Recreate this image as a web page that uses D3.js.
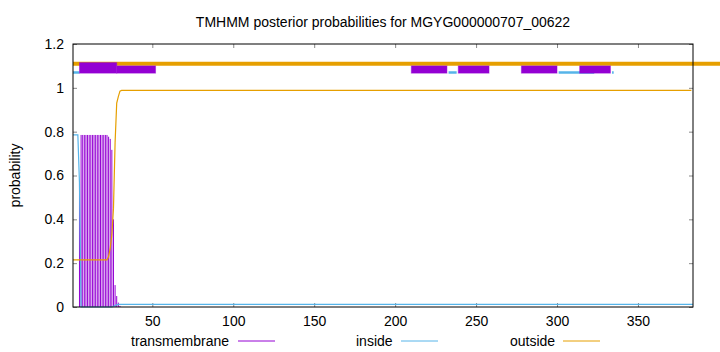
<!DOCTYPE html>
<html>
<head>
<meta charset="utf-8">
<script src="https://cdn.jsdelivr.net/npm/d3@7"></script>
<style>
  html, body { margin: 0; padding: 0; background: #fff; }
  svg { display: block; font-family: "Liberation Sans", Arial, sans-serif; }
</style>
</head>
<body>
<svg id="chart" width="720" height="352"></svg>
<script>
// ---------------- data ----------------
const title = "TMHMM posterior probabilities for MGYG000000707_00622";
const seqLength = 384;
const xTicks = [50, 100, 150, 200, 250, 300, 350];
const yTicks = [0, 0.2, 0.4, 0.6, 0.8, 1.0, 1.2];
const yTickLabels = ["0", "0.2", "0.4", "0.6", "0.8", "1", "1.2"];
const legendLabels = ["transmembrane", "inside", "outside"];

// transmembrane posterior (impulses), residues and values
const tmResidues = [5, 6, 7, 8, 9, 10, 11, 12, 13, 14, 15, 16, 17, 18, 19, 20, 21, 22, 23, 24, 25, 26, 27, 28, 29, 30];
const tmValues   = [0.565, 0.785, 0.785, 0.785, 0.785, 0.785, 0.785, 0.785, 0.785, 0.785, 0.785, 0.785, 0.785, 0.785, 0.785, 0.785, 0.785, 0.785, 0.777, 0.767, 0.717, 0.40, 0.10, 0.05, 0.02, 0.005];

// inside posterior (line), break points
const insideResidues = [1, 4, 5, 6, 25, 26, 27, 28, 29, 384];
const insideValues   = [0.785, 0.785, 0.565, 0.0, 0.0, 0.003, 0.007, 0.010, 0.012, 0.012];

// outside posterior (line), break points
const outsideResidues = [1, 22, 23, 24, 25, 26, 27, 28, 29, 30, 31, 383];
const outsideValues   = [0.215, 0.215, 0.23, 0.27, 0.33, 0.45, 0.75, 0.93, 0.96, 0.985, 0.988, 0.988];

// predicted topology shown above the plot
const outsideSegStart = [1];
const outsideSegEnd   = [402];
const outsideSegLevel = 1.11;
const insideSegStart = [1, 233, 301, 334];
const insideSegEnd   = [5, 238, 323, 335];
const insideSegLevel = 1.07;
const tmBoxStart = [5, 28, 210, 239, 278, 314];
const tmBoxEnd   = [28, 52, 232, 258, 300, 333];
const tmBoxTop   = [1.115, 1.10, 1.10, 1.10, 1.10, 1.10];
const tmBoxBottom = 1.067;

// ---------------- drawing ----------------
const colTM = "#9400d3", colIn = "#56b4e9", colOut = "#e69f00";
const svg = d3.select("#chart");
const pLeft = 73, pRight = 693, pTop = 44, pBottom = 307;

const x = d3.scaleLinear().domain([1, seqLength]).range([pLeft, pRight]);
const y = d3.scaleLinear().domain([0, 1.2]).range([pBottom, pTop]);

// title
svg.append("text")
  .attr("x", (pLeft + pRight) / 2).attr("y", 27)
  .attr("text-anchor", "middle").attr("font-size", 14).attr("fill", "#000")
  .text(title);

// y-axis label
svg.append("text")
  .attr("transform", `translate(20,${(pTop + pBottom) / 2}) rotate(-90)`)
  .attr("text-anchor", "middle").attr("font-size", 14).attr("fill", "#000")
  .text("probability");

// axes (ticks inward)
const gx = svg.append("g").attr("transform", `translate(0,${pBottom})`)
  .call(d3.axisBottom(x).tickValues(xTicks).tickFormat(d3.format("d"))
    .tickSizeInner(-4).tickSizeOuter(0).tickPadding(9));
const gxTop = svg.append("g").attr("transform", `translate(0,${pTop})`)
  .call(d3.axisTop(x).tickValues(xTicks).tickFormat("")
    .tickSizeInner(-4).tickSizeOuter(0));
const gy = svg.append("g").attr("transform", `translate(${pLeft},0)`)
  .call(d3.axisLeft(y).tickValues(yTicks).tickFormat((d, i) => yTickLabels[i])
    .tickSizeInner(-4).tickSizeOuter(0).tickPadding(9));
const gyR = svg.append("g").attr("transform", `translate(${pRight},0)`)
  .call(d3.axisRight(y).tickValues(yTicks).tickFormat("")
    .tickSizeInner(-4).tickSizeOuter(0));
[gx, gxTop, gy, gyR].forEach(g => {
  g.select(".domain").remove();
  g.selectAll(".tick line").attr("stroke", "#888");
  g.selectAll(".tick text").attr("font-size", 14).attr("fill", "#000")
    .attr("font-family", "Liberation Sans, Arial, sans-serif");
});

// transmembrane impulses
svg.append("g").selectAll("line").data(tmResidues).join("line")
  .attr("x1", d => x(d)).attr("x2", d => x(d))
  .attr("y1", y(0)).attr("y2", (d, i) => y(tmValues[i]))
  .attr("stroke", colTM).attr("stroke-width", 1);

// inside line
const line = d3.line().x(d => x(d[0])).y(d => y(d[1]));
svg.append("path")
  .datum(insideResidues.map((r, i) => [r, insideValues[i]]))
  .attr("d", line).attr("fill", "none").attr("stroke", colIn).attr("stroke-width", 1.2);

// outside line
svg.append("path")
  .datum(outsideResidues.map((r, i) => [r, outsideValues[i]]))
  .attr("d", line).attr("fill", "none").attr("stroke", colOut).attr("stroke-width", 1.2);

// topology: outside bar
svg.append("g").selectAll("line").data(outsideSegStart).join("line")
  .attr("x1", d => x(d)).attr("x2", (d, i) => x(outsideSegEnd[i]))
  .attr("y1", y(outsideSegLevel)).attr("y2", y(outsideSegLevel))
  .attr("stroke", colOut).attr("stroke-width", 4);

// topology: inside bars
svg.append("g").selectAll("line").data(insideSegStart).join("line")
  .attr("x1", d => x(d)).attr("x2", (d, i) => x(insideSegEnd[i]))
  .attr("y1", y(insideSegLevel)).attr("y2", y(insideSegLevel))
  .attr("stroke", colIn).attr("stroke-width", 2.5);

// topology: TM boxes
svg.append("g").selectAll("rect").data(tmBoxStart).join("rect")
  .attr("x", d => x(d)).attr("width", (d, i) => x(tmBoxEnd[i]) - x(d))
  .attr("y", (d, i) => y(tmBoxTop[i]))
  .attr("height", (d, i) => y(tmBoxBottom) - y(tmBoxTop[i]))
  .attr("fill", colTM).attr("stroke", "rgba(148,0,211,0.45)").attr("stroke-width", 1);

// border
svg.append("rect")
  .attr("x", pLeft).attr("y", pTop).attr("width", pRight - pLeft).attr("height", pBottom - pTop)
  .attr("fill", "none").attr("stroke", "#000").attr("stroke-width", 1);

// legend
const legendText = [131, 356, 510];
const legendLineStart = [238, 401, 563];
const legendCols = [colTM, colIn, colOut];
const legendY = 341;
legendLabels.forEach((lab, i) => {
  svg.append("text").attr("x", legendText[i]).attr("y", legendY + 5)
    .attr("font-size", 14).attr("fill", "#000").text(lab);
  svg.append("line").attr("x1", legendLineStart[i]).attr("x2", legendLineStart[i] + 37)
    .attr("y1", legendY).attr("y2", legendY)
    .attr("stroke", legendCols[i]).attr("stroke-width", 1);
});
</script>
</body>
</html>
